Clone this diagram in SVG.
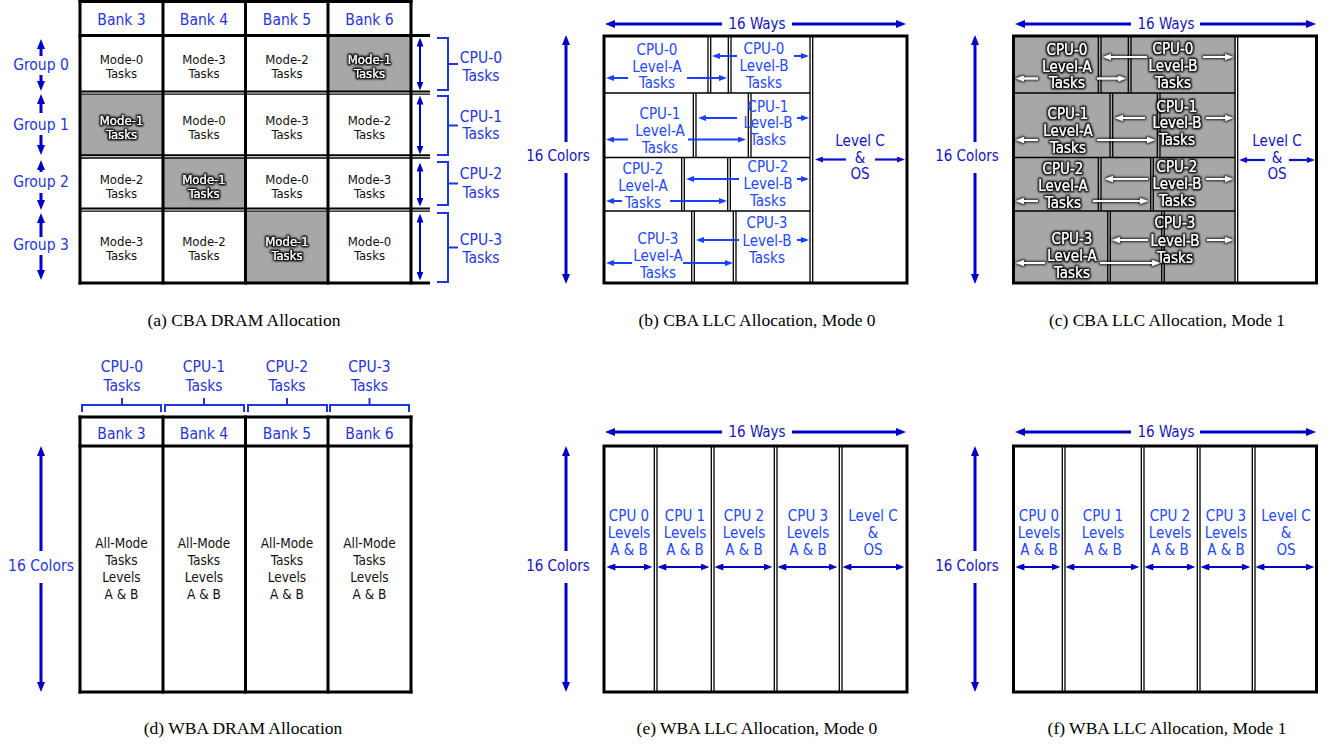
<svg xmlns="http://www.w3.org/2000/svg" width="1330" height="744" viewBox="0 0 1330 744">
<defs>
<style>
.t{font-family:"DejaVu Sans Condensed","DejaVu Sans",sans-serif;text-anchor:middle}
.hd{font-size:15.5px;fill:#1f35e0}
.dk{font-size:15px;fill:#1414c0}
.ck{font-size:13.5px;fill:#111}
.c2{font-size:13px;fill:#111}
.cw{font-size:13px;fill:#fff;filter:url(#glow)}
.bl{font-size:15px;fill:#2448ff}
.wl{font-size:15px;fill:#fff;filter:url(#glow)}
.cap{font-family:"Liberation Serif",serif;font-size:17.5px;fill:#000;text-anchor:middle}
.bigs{stroke:#0000c8;stroke-width:3;fill:none;marker-end:url(#mb)}
.bigd{stroke:#0000c8;stroke-width:2;fill:none;marker-start:url(#mb2);marker-end:url(#mb2)}
.brk{stroke:#1f35e0;stroke-width:2;fill:none}
.sa{stroke:#1a40ff;stroke-width:2;fill:none;marker-end:url(#ms)}
.sd{stroke:#1010d0;stroke-width:2.2;fill:none;marker-end:url(#md)}
.sw{stroke:#fff;stroke-width:2;fill:none;marker-end:url(#mw)}
.K{stroke:#000;stroke-width:3;fill:none}
.k2{stroke:#000;stroke-width:2;fill:none}
.k1{stroke:#000;stroke-width:1.3;fill:none}
.g{fill:#a5a8a7}
</style>
<marker id="mb" viewBox="0 0 10 8" refX="5" refY="4" markerWidth="10" markerHeight="8" markerUnits="userSpaceOnUse" orient="auto"><path d="M0,0L10,4L0,8z" fill="#0000c8"/></marker>
<marker id="mb2" viewBox="0 0 10 8" refX="5" refY="4" markerWidth="9" markerHeight="7" markerUnits="userSpaceOnUse" orient="auto-start-reverse"><path d="M0,0L10,4L0,8z" fill="#0000c8"/></marker>
<marker id="ms" viewBox="0 0 8 6" refX="4" refY="3" markerWidth="8" markerHeight="6" markerUnits="userSpaceOnUse" orient="auto"><path d="M0,0L8,3L0,6z" fill="#1a40ff"/></marker>
<marker id="md" viewBox="0 0 8 6" refX="4" refY="3" markerWidth="8" markerHeight="6" markerUnits="userSpaceOnUse" orient="auto"><path d="M0,0L8,3L0,6z" fill="#1010d0"/></marker>
<marker id="mw" viewBox="0 0 8 6" refX="4" refY="3" markerWidth="8" markerHeight="6" markerUnits="userSpaceOnUse" orient="auto"><path d="M0,0L8,3L0,6z" fill="#fff"/></marker>
<filter id="glow" x="-20%" y="-40%" width="140%" height="180%">
<feMorphology in="SourceAlpha" operator="dilate" radius="0.8" result="d"/>
<feGaussianBlur in="d" stdDeviation="1.3" result="b"/>
<feFlood flood-color="#000" flood-opacity="0.85"/>
<feComposite in2="b" operator="in" result="s"/>
<feMerge><feMergeNode in="s"/><feMergeNode in="s"/><feMergeNode in="SourceGraphic"/></feMerge>
</filter>
<filter id="glowl" filterUnits="userSpaceOnUse" x="1000" y="30" width="250" height="260">
<feMorphology in="SourceAlpha" operator="dilate" radius="0.6" result="d"/>
<feGaussianBlur in="d" stdDeviation="1.1" result="b"/>
<feFlood flood-color="#000" flood-opacity="0.8"/>
<feComposite in2="b" operator="in" result="s"/>
<feMerge><feMergeNode in="s"/><feMergeNode in="SourceGraphic"/></feMerge>
</filter>
</defs>
<rect width="1330" height="744" fill="#fff"/>

<!-- ===== (a) CBA DRAM ===== -->
<g id="panel-a">
<g id="a-cells">
<rect class="g" x="328" y="37" width="83" height="54"/>
<rect class="g" x="80" y="95" width="83" height="60"/>
<rect class="g" x="163" y="158" width="82.5" height="50"/>
<rect class="g" x="245.5" y="212" width="82.5" height="71"/>
</g>
<g id="a-grid">
<line class="K" x1="78.5" y1="1.5" x2="412.5" y2="1.5"/>
<line class="K" x1="80" y1="0" x2="80" y2="284.5"/>
<line class="K" x1="163" y1="0" x2="163" y2="284.5"/>
<line class="K" x1="245.5" y1="0" x2="245.5" y2="284.5"/>
<line class="K" x1="328" y1="0" x2="328" y2="284.5"/>
<line class="K" x1="411" y1="0" x2="411" y2="284.5"/>
<line class="K" x1="78.5" y1="35.5" x2="430" y2="35.5"/>
<line class="k2" x1="80" y1="91.5" x2="430" y2="91.5"/><line class="k1" x1="80" y1="94.2" x2="430" y2="94.2"/>
<line class="k2" x1="80" y1="155.3" x2="430" y2="155.3"/><line class="k1" x1="80" y1="158" x2="430" y2="158"/>
<line class="k2" x1="80" y1="208.5" x2="430" y2="208.5"/><line class="k1" x1="80" y1="211.2" x2="430" y2="211.2"/>
<line class="K" x1="78.5" y1="283" x2="430" y2="283"/>
</g>
<g id="a-header">
<text class="t hd" x="121.5" y="24.5">Bank 3</text>
<text class="t hd" x="204" y="24.5">Bank 4</text>
<text class="t hd" x="287" y="24.5">Bank 5</text>
<text class="t hd" x="369.5" y="24.5">Bank 6</text>
</g>
<g id="a-g0">
<text class="t c2" x="121.5" y="64">Mode-0</text><text class="t c2" x="121.5" y="78">Tasks</text>
<text class="t c2" x="204" y="64">Mode-3</text><text class="t c2" x="204" y="78">Tasks</text>
<text class="t c2" x="287" y="64">Mode-2</text><text class="t c2" x="287" y="78">Tasks</text>
<text class="t cw" x="369.5" y="64">Mode-1</text><text class="t cw" x="369.5" y="78">Tasks</text>
</g>
<g id="a-g1">
<text class="t cw" x="121.5" y="124.5">Mode-1</text><text class="t cw" x="121.5" y="138.5">Tasks</text>
<text class="t c2" x="204" y="124.5">Mode-0</text><text class="t c2" x="204" y="138.5">Tasks</text>
<text class="t c2" x="287" y="124.5">Mode-3</text><text class="t c2" x="287" y="138.5">Tasks</text>
<text class="t c2" x="369.5" y="124.5">Mode-2</text><text class="t c2" x="369.5" y="138.5">Tasks</text>
</g>
<g id="a-g2">
<text class="t c2" x="121.5" y="183.5">Mode-2</text><text class="t c2" x="121.5" y="197.5">Tasks</text>
<text class="t cw" x="204" y="183.5">Mode-1</text><text class="t cw" x="204" y="197.5">Tasks</text>
<text class="t c2" x="287" y="183.5">Mode-0</text><text class="t c2" x="287" y="197.5">Tasks</text>
<text class="t c2" x="369.5" y="183.5">Mode-3</text><text class="t c2" x="369.5" y="197.5">Tasks</text>
</g>
<g id="a-g3">
<text class="t c2" x="121.5" y="245.5">Mode-3</text><text class="t c2" x="121.5" y="259.5">Tasks</text>
<text class="t c2" x="204" y="245.5">Mode-2</text><text class="t c2" x="204" y="259.5">Tasks</text>
<text class="t cw" x="287" y="245.5">Mode-1</text><text class="t cw" x="287" y="259.5">Tasks</text>
<text class="t c2" x="369.5" y="245.5">Mode-0</text><text class="t c2" x="369.5" y="259.5">Tasks</text>
</g>
<g id="a-groups">
<text class="t hd" x="41" y="70">Group 0</text>
<text class="t hd" x="41" y="130">Group 1</text>
<text class="t hd" x="41" y="187">Group 2</text>
<text class="t hd" x="41" y="250">Group 3</text>
</g>
<g id="a-cpus">
<text class="t hd" x="481" y="63">CPU-0</text><text class="t hd" x="481" y="81">Tasks</text>
<text class="t hd" x="481" y="121.5">CPU-1</text><text class="t hd" x="481" y="139">Tasks</text>
<text class="t hd" x="481" y="179">CPU-2</text><text class="t hd" x="481" y="198">Tasks</text>
<text class="t hd" x="481" y="245">CPU-3</text><text class="t hd" x="481" y="263">Tasks</text>
</g>
</g>

<!-- ===== (b) CBA LLC Mode 0 ===== -->
<g id="panel-b">
<g id="b-frame">
<rect x="604" y="36" width="303" height="247" fill="none" stroke="#000" stroke-width="3"/>
<line class="k1" x1="810" y1="36" x2="810" y2="283"/><line class="k1" x1="812.7" y1="36" x2="812.7" y2="283"/>
<line class="k1" x1="604" y1="93" x2="810" y2="93"/>
<line class="k1" x1="604" y1="157.5" x2="810" y2="157.5"/>
<line class="k1" x1="604" y1="211" x2="810" y2="211"/>
</g>
<g id="b-row0">
<line class="k1" x1="708" y1="36" x2="708" y2="93"/><line class="k1" x1="710.7" y1="36" x2="710.7" y2="93"/>
<line class="k1" x1="728.3" y1="36" x2="728.3" y2="93"/><line class="k1" x1="731" y1="36" x2="731" y2="93"/>
<text class="t bl" x="657" y="54.5">CPU-0</text><text class="t bl" x="657" y="71.5">Level-A</text><text class="t bl" x="657" y="88">Tasks</text>
<text class="t bl" x="764" y="54">CPU-0</text><text class="t bl" x="764" y="71">Level-B</text><text class="t bl" x="764" y="87.5">Tasks</text>
</g>
<g id="b-row1">
<line class="k1" x1="693.3" y1="93" x2="693.3" y2="157.5"/><line class="k1" x1="696" y1="93" x2="696" y2="157.5"/>
<line class="k1" x1="748.3" y1="93" x2="748.3" y2="157.5"/><line class="k1" x1="751" y1="93" x2="751" y2="157.5"/>
<text class="t bl" x="660" y="119">CPU-1</text><text class="t bl" x="660" y="136">Level-A</text><text class="t bl" x="660" y="153">Tasks</text>
<text class="t bl" x="768" y="111.5">CPU-1</text><text class="t bl" x="768" y="128">Level-B</text><text class="t bl" x="768" y="145">Tasks</text>
</g>
<g id="b-row2">
<line class="k1" x1="681.7" y1="157.5" x2="681.7" y2="211"/><line class="k1" x1="684.3" y1="157.5" x2="684.3" y2="211"/>
<line class="k1" x1="727.7" y1="157.5" x2="727.7" y2="211"/><line class="k1" x1="730.3" y1="157.5" x2="730.3" y2="211"/>
<text class="t bl" x="643" y="174">CPU-2</text><text class="t bl" x="643" y="191">Level-A</text><text class="t bl" x="643" y="207.5">Tasks</text>
<text class="t bl" x="768" y="172">CPU-2</text><text class="t bl" x="768" y="189">Level-B</text><text class="t bl" x="768" y="206">Tasks</text>
</g>
<g id="b-row3">
<line class="k1" x1="691.7" y1="211" x2="691.7" y2="283"/><line class="k1" x1="694.3" y1="211" x2="694.3" y2="283"/>
<line class="k1" x1="733.3" y1="211" x2="733.3" y2="283"/><line class="k1" x1="736" y1="211" x2="736" y2="283"/>
<text class="t bl" x="658" y="244">CPU-3</text><text class="t bl" x="658" y="261">Level-A</text><text class="t bl" x="658" y="278">Tasks</text>
<text class="t bl" x="767" y="228">CPU-3</text><text class="t bl" x="767" y="246">Level-B</text><text class="t bl" x="767" y="263">Tasks</text>
</g>
<g id="b-levelc">
<text class="t dk" x="860" y="146">Level C</text><text class="t dk" x="860" y="163">&amp;</text><text class="t dk" x="860" y="179">OS</text>
</g>
<g id="b-labels">
<text class="t dk" x="757" y="29">16 Ways</text>
<text class="t dk" x="558" y="161">16 Colors</text>
</g>
</g>

<!-- ===== (c) CBA LLC Mode 1 ===== -->
<g id="panel-c">
<g id="c-frame">
<rect class="g" x="1013" y="36" width="223" height="247"/>
<rect x="1013.5" y="36" width="303" height="247" fill="none" stroke="#000" stroke-width="3"/>
<line class="k1" x1="1235" y1="36" x2="1235" y2="283"/><line class="k1" x1="1237.7" y1="36" x2="1237.7" y2="283"/>
<line class="k1" x1="1013" y1="93" x2="1235" y2="93"/>
<line class="k1" x1="1013" y1="157.5" x2="1235" y2="157.5"/>
<line class="k1" x1="1013" y1="211" x2="1235" y2="211"/>
</g>
<g id="c-row0">
<line class="k1" x1="1098.3" y1="36" x2="1098.3" y2="93"/><line class="k1" x1="1101" y1="36" x2="1101" y2="93"/>
<line class="k1" x1="1128.3" y1="36" x2="1128.3" y2="93"/><line class="k1" x1="1131" y1="36" x2="1131" y2="93"/>
<text class="t wl" x="1067" y="54.5">CPU-0</text><text class="t wl" x="1067" y="71.5">Level-A</text><text class="t wl" x="1067" y="88">Tasks</text>
<text class="t wl" x="1173" y="54">CPU-0</text><text class="t wl" x="1173" y="71">Level-B</text><text class="t wl" x="1173" y="87.5">Tasks</text>
</g>
<g id="c-row1">
<line class="k1" x1="1110" y1="93" x2="1110" y2="157.5"/><line class="k1" x1="1112.7" y1="93" x2="1112.7" y2="157.5"/>
<line class="k1" x1="1157.3" y1="93" x2="1157.3" y2="157.5"/><line class="k1" x1="1160" y1="93" x2="1160" y2="157.5"/>
<text class="t wl" x="1068" y="119">CPU-1</text><text class="t wl" x="1068" y="136">Level-A</text><text class="t wl" x="1068" y="153">Tasks</text>
<text class="t wl" x="1177" y="111.5">CPU-1</text><text class="t wl" x="1177" y="128">Level-B</text><text class="t wl" x="1177" y="145">Tasks</text>
</g>
<g id="c-row2">
<line class="k1" x1="1098.3" y1="157.5" x2="1098.3" y2="211"/><line class="k1" x1="1101" y1="157.5" x2="1101" y2="211"/>
<line class="k1" x1="1150.7" y1="157.5" x2="1150.7" y2="211"/><line class="k1" x1="1153.3" y1="157.5" x2="1153.3" y2="211"/>
<text class="t wl" x="1063" y="174">CPU-2</text><text class="t wl" x="1063" y="191">Level-A</text><text class="t wl" x="1063" y="207.5">Tasks</text>
<text class="t wl" x="1177" y="172">CPU-2</text><text class="t wl" x="1177" y="189">Level-B</text><text class="t wl" x="1177" y="206">Tasks</text>
</g>
<g id="c-row3">
<line class="k1" x1="1107.7" y1="211" x2="1107.7" y2="283"/><line class="k1" x1="1110.3" y1="211" x2="1110.3" y2="283"/>
<line class="k1" x1="1161.7" y1="211" x2="1161.7" y2="283"/><line class="k1" x1="1164.3" y1="211" x2="1164.3" y2="283"/>
<text class="t wl" x="1072" y="244">CPU-3</text><text class="t wl" x="1072" y="261">Level-A</text><text class="t wl" x="1072" y="278">Tasks</text>
<text class="t wl" x="1175" y="228">CPU-3</text><text class="t wl" x="1175" y="246">Level-B</text><text class="t wl" x="1175" y="263">Tasks</text>
</g>
<g id="c-levelc">
<text class="t dk" x="1277" y="146">Level C</text><text class="t dk" x="1277" y="163">&amp;</text><text class="t dk" x="1277" y="179">OS</text>
</g>
<g id="c-labels">
<text class="t dk" x="1166" y="29">16 Ways</text>
<text class="t dk" x="967" y="161">16 Colors</text>
</g>
</g>

<!-- ===== (d) WBA DRAM ===== -->
<g id="panel-d">
<g id="d-grid">
<line class="K" x1="78.5" y1="417" x2="412.5" y2="417"/>
<line class="K" x1="78.5" y1="446" x2="412.5" y2="446"/>
<line class="K" x1="78.5" y1="692" x2="412.5" y2="692"/>
<line class="K" x1="80" y1="415.5" x2="80" y2="693.5"/>
<line class="K" x1="163" y1="415.5" x2="163" y2="693.5"/>
<line class="K" x1="245.5" y1="415.5" x2="245.5" y2="693.5"/>
<line class="K" x1="328" y1="415.5" x2="328" y2="693.5"/>
<line class="K" x1="411" y1="415.5" x2="411" y2="693.5"/>
</g>
<g id="d-header">
<text class="t hd" x="121.5" y="439">Bank 3</text>
<text class="t hd" x="204" y="439">Bank 4</text>
<text class="t hd" x="287" y="439">Bank 5</text>
<text class="t hd" x="369.5" y="439">Bank 6</text>
</g>
<g id="d-cols">
<text class="t ck" x="121.5" y="548">All-Mode</text><text class="t ck" x="121.5" y="565">Tasks</text><text class="t ck" x="121.5" y="582">Levels</text><text class="t ck" x="121.5" y="599">A &amp; B</text>
<text class="t ck" x="204" y="548">All-Mode</text><text class="t ck" x="204" y="565">Tasks</text><text class="t ck" x="204" y="582">Levels</text><text class="t ck" x="204" y="599">A &amp; B</text>
<text class="t ck" x="287" y="548">All-Mode</text><text class="t ck" x="287" y="565">Tasks</text><text class="t ck" x="287" y="582">Levels</text><text class="t ck" x="287" y="599">A &amp; B</text>
<text class="t ck" x="369.5" y="548">All-Mode</text><text class="t ck" x="369.5" y="565">Tasks</text><text class="t ck" x="369.5" y="582">Levels</text><text class="t ck" x="369.5" y="599">A &amp; B</text>
</g>
<g id="d-cpus">
<text class="t hd" x="122" y="372">CPU-0</text><text class="t hd" x="122" y="391">Tasks</text>
<text class="t hd" x="204" y="372">CPU-1</text><text class="t hd" x="204" y="391">Tasks</text>
<text class="t hd" x="287" y="372">CPU-2</text><text class="t hd" x="287" y="391">Tasks</text>
<text class="t hd" x="369.5" y="372">CPU-3</text><text class="t hd" x="369.5" y="391">Tasks</text>
</g>
<text class="t hd" x="41" y="571">16 Colors</text>
</g>

<!-- ===== (e) WBA LLC Mode 0 ===== -->
<g id="panel-e">
<rect x="604" y="446" width="303" height="246" fill="none" stroke="#000" stroke-width="3"/>
<g id="e-lines">
<line class="k1" x1="654.3" y1="446" x2="654.3" y2="692"/><line class="k1" x1="657" y1="446" x2="657" y2="692"/>
<line class="k1" x1="711.3" y1="446" x2="711.3" y2="692"/><line class="k1" x1="714" y1="446" x2="714" y2="692"/>
<line class="k1" x1="774.3" y1="446" x2="774.3" y2="692"/><line class="k1" x1="777" y1="446" x2="777" y2="692"/>
<line class="k1" x1="839.3" y1="446" x2="839.3" y2="692"/><line class="k1" x1="842" y1="446" x2="842" y2="692"/>
</g>
<g id="e-c0"><text class="t bl" x="629" y="521">CPU 0</text><text class="t bl" x="629" y="538">Levels</text><text class="t bl" x="629" y="555">A &amp; B</text></g>
<g id="e-c1"><text class="t bl" x="685" y="521">CPU 1</text><text class="t bl" x="685" y="538">Levels</text><text class="t bl" x="685" y="555">A &amp; B</text></g>
<g id="e-c2"><text class="t bl" x="744" y="521">CPU 2</text><text class="t bl" x="744" y="538">Levels</text><text class="t bl" x="744" y="555">A &amp; B</text></g>
<g id="e-c3"><text class="t bl" x="808" y="521">CPU 3</text><text class="t bl" x="808" y="538">Levels</text><text class="t bl" x="808" y="555">A &amp; B</text></g>
<g id="e-lc"><text class="t bl" x="873" y="521">Level C</text><text class="t bl" x="873" y="538">&amp;</text><text class="t bl" x="873" y="555">OS</text></g>
<text class="t dk" x="757" y="437">16 Ways</text>
<text class="t dk" x="558" y="571">16 Colors</text>
</g>

<!-- ===== (f) WBA LLC Mode 1 ===== -->
<g id="panel-f">
<rect x="1013.5" y="446" width="303" height="246" fill="none" stroke="#000" stroke-width="3"/>
<g id="f-lines">
<line class="k1" x1="1062.3" y1="446" x2="1062.3" y2="692"/><line class="k1" x1="1065" y1="446" x2="1065" y2="692"/>
<line class="k1" x1="1141.3" y1="446" x2="1141.3" y2="692"/><line class="k1" x1="1144" y1="446" x2="1144" y2="692"/>
<line class="k1" x1="1197.3" y1="446" x2="1197.3" y2="692"/><line class="k1" x1="1200" y1="446" x2="1200" y2="692"/>
<line class="k1" x1="1252.3" y1="446" x2="1252.3" y2="692"/><line class="k1" x1="1255" y1="446" x2="1255" y2="692"/>
</g>
<g id="f-c0"><text class="t bl" x="1039" y="521">CPU 0</text><text class="t bl" x="1039" y="538">Levels</text><text class="t bl" x="1039" y="555">A &amp; B</text></g>
<g id="f-c1"><text class="t bl" x="1103" y="521">CPU 1</text><text class="t bl" x="1103" y="538">Levels</text><text class="t bl" x="1103" y="555">A &amp; B</text></g>
<g id="f-c2"><text class="t bl" x="1170" y="521">CPU 2</text><text class="t bl" x="1170" y="538">Levels</text><text class="t bl" x="1170" y="555">A &amp; B</text></g>
<g id="f-c3"><text class="t bl" x="1226" y="521">CPU 3</text><text class="t bl" x="1226" y="538">Levels</text><text class="t bl" x="1226" y="555">A &amp; B</text></g>
<g id="f-lc"><text class="t bl" x="1286" y="521">Level C</text><text class="t bl" x="1286" y="538">&amp;</text><text class="t bl" x="1286" y="555">OS</text></g>
<text class="t dk" x="1166" y="437">16 Ways</text>
<text class="t dk" x="967" y="571">16 Colors</text>
</g>

<!-- ===== connectors ===== -->
<g id="connectors">
<line class="bigs" x1="41" y1="56" x2="41" y2="44"/><line class="bigs" x1="41" y1="75" x2="41" y2="86"/>
<line class="bigs" x1="41" y1="113" x2="41" y2="99"/><line class="bigs" x1="41" y1="135" x2="41" y2="150"/>
<line class="bigs" x1="41" y1="172" x2="41" y2="165"/><line class="bigs" x1="41" y1="193" x2="41" y2="205"/>
<line class="bigs" x1="41" y1="237" x2="41" y2="218"/><line class="bigs" x1="41" y1="255" x2="41" y2="275"/>
<line class="bigd" x1="420" y1="42" x2="420" y2="86"/>
<line class="bigd" x1="420" y1="100" x2="420" y2="150"/>
<line class="bigd" x1="420" y1="167" x2="420" y2="202"/>
<line class="bigd" x1="420" y1="218" x2="420" y2="276"/>
<path class="brk" d="M437,38H448V90H437M448,64H458"/>
<path class="brk" d="M437,96H448V155H437M448,125.5H458"/>
<path class="brk" d="M437,162H448V205H437M448,183.5H458"/>
<path class="brk" d="M437,213H448V282H437M448,247.5H458"/>
<line class="bigs" x1="722" y1="24" x2="610" y2="24"/><line class="bigs" x1="792" y1="24" x2="901" y2="24"/>
<line class="bigs" x1="566" y1="142" x2="566" y2="40"/><line class="bigs" x1="566" y1="173" x2="566" y2="279"/>
<line class="sa" x1="628" y1="78" x2="610" y2="78"/><line class="sa" x1="687" y1="78" x2="723" y2="78"/>
<line class="sa" x1="737" y1="56" x2="716" y2="56"/><line class="sa" x1="794" y1="56" x2="805" y2="56"/>
<line class="sa" x1="628" y1="139.5" x2="610" y2="139.5"/><line class="sa" x1="688" y1="139.5" x2="742" y2="139.5"/>
<line class="sa" x1="737" y1="118" x2="702" y2="118"/><line class="sa" x1="797" y1="118" x2="805" y2="118"/>
<line class="sa" x1="622" y1="201" x2="610" y2="201"/><line class="sa" x1="670" y1="201" x2="723" y2="201"/>
<line class="sa" x1="739" y1="179" x2="690" y2="179"/><line class="sa" x1="797" y1="179" x2="805" y2="179"/>
<line class="sa" x1="632" y1="263" x2="610" y2="263"/><line class="sa" x1="683" y1="263" x2="729" y2="263"/>
<line class="sa" x1="739" y1="240" x2="700" y2="240"/><line class="sa" x1="797" y1="240" x2="805" y2="240"/>
<line class="sd" x1="846" y1="159.5" x2="819" y2="159.5"/><line class="sd" x1="875" y1="159.5" x2="901" y2="159.5"/>
<line class="bigs" x1="1131" y1="24" x2="1020" y2="24"/><line class="bigs" x1="1200" y1="24" x2="1311" y2="24"/>
<line class="bigs" x1="975" y1="142" x2="975" y2="40"/><line class="bigs" x1="975" y1="173" x2="975" y2="279"/>
<g id="c-arrows" filter="url(#glowl)">
<line class="sw" x1="1038" y1="78.5" x2="1020" y2="78.5"/><line class="sw" x1="1097" y1="78.5" x2="1122" y2="78.5"/>
<line class="sw" x1="1147" y1="57" x2="1107" y2="57"/><line class="sw" x1="1203" y1="57" x2="1229" y2="57"/>
<line class="sw" x1="1038" y1="140" x2="1020" y2="140"/><line class="sw" x1="1097" y1="140" x2="1151" y2="140"/>
<line class="sw" x1="1145" y1="118" x2="1119" y2="118"/><line class="sw" x1="1206" y1="118" x2="1229" y2="118"/>
<line class="sw" x1="1038" y1="201" x2="1020" y2="201"/><line class="sw" x1="1093" y1="201" x2="1144" y2="201"/>
<line class="sw" x1="1148" y1="179" x2="1109" y2="179"/><line class="sw" x1="1206" y1="179" x2="1229" y2="179"/>
<line class="sw" x1="1045" y1="263" x2="1020" y2="263"/><line class="sw" x1="1100" y1="263" x2="1156" y2="263"/>
<line class="sw" x1="1148" y1="240" x2="1116" y2="240"/><line class="sw" x1="1207" y1="240" x2="1229" y2="240"/>
</g>
<line class="sd" x1="1265" y1="160" x2="1243" y2="160"/><line class="sd" x1="1289" y1="160" x2="1311" y2="160"/>
<path class="brk" d="M82,412V405H161V412M122,405V398"/>
<path class="brk" d="M165,412V405H244V412M204,405V398"/>
<path class="brk" d="M248,412V405H327V412M287,405V398"/>
<path class="brk" d="M330,412V405H409V412M369.5,405V398"/>
<line class="bigs" x1="41" y1="551" x2="41" y2="451"/><line class="bigs" x1="41" y1="583" x2="41" y2="687"/>
<line class="bigs" x1="722" y1="432" x2="610" y2="432"/><line class="bigs" x1="792" y1="432" x2="901" y2="432"/>
<line class="bigs" x1="566" y1="551" x2="566" y2="451"/><line class="bigs" x1="566" y1="583" x2="566" y2="687"/>
<line class="bigd" x1="611" y1="567" x2="648" y2="567"/>
<line class="bigd" x1="662" y1="567" x2="705" y2="567"/>
<line class="bigd" x1="719" y1="567" x2="768" y2="567"/>
<line class="bigd" x1="782" y1="567" x2="833" y2="567"/>
<line class="bigd" x1="847" y1="567" x2="900" y2="567"/>
<line class="bigs" x1="1131" y1="432" x2="1020" y2="432"/><line class="bigs" x1="1200" y1="432" x2="1311" y2="432"/>
<line class="bigs" x1="975" y1="551" x2="975" y2="451"/><line class="bigs" x1="975" y1="583" x2="975" y2="687"/>
<line class="bigd" x1="1020" y1="567" x2="1056" y2="567"/>
<line class="bigd" x1="1070" y1="567" x2="1135" y2="567"/>
<line class="bigd" x1="1149" y1="567" x2="1191" y2="567"/>
<line class="bigd" x1="1205" y1="567" x2="1246" y2="567"/>
<line class="bigd" x1="1260" y1="567" x2="1310" y2="567"/>
</g>

<g id="captions">
<text class="cap" x="244" y="326">(a) CBA DRAM Allocation</text>
<text class="cap" x="757" y="326">(b) CBA LLC Allocation, Mode 0</text>
<text class="cap" x="1167" y="326">(c) CBA LLC Allocation, Mode 1</text>
<text class="cap" x="243" y="734">(d) WBA DRAM Allocation</text>
<text class="cap" x="757" y="734">(e) WBA LLC Allocation, Mode 0</text>
<text class="cap" x="1167" y="734">(f) WBA LLC Allocation, Mode 1</text>
</g>
</svg>
